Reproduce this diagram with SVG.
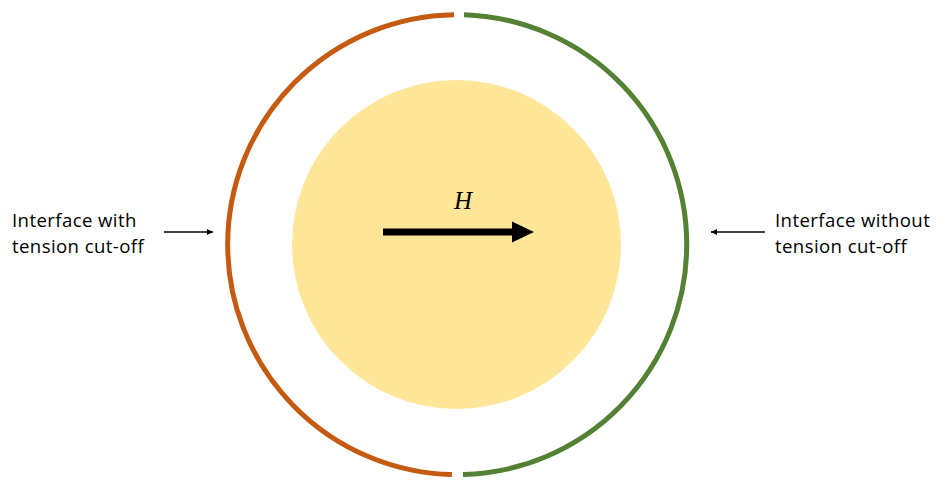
<svg xmlns="http://www.w3.org/2000/svg" width="936" height="480" viewBox="0 0 936 480">
  <style>
    .lbl { font-family: "Open Sans", "Noto Sans", "Liberation Sans", sans-serif; font-size: 18.6px; letter-spacing: 0.4px; fill: #000; }
    .arc { fill: none; stroke-width: 5; stroke-linecap: butt; }
    .thin { stroke: #000; stroke-width: 1.5; fill: none; }
  </style>
  <defs>
    <marker id="ah" viewBox="0 0 10 10" refX="10" refY="5" markerWidth="6" markerHeight="6" markerUnits="userSpaceOnUse" orient="auto">
      <path d="M0,0 L10,5 L0,10 z" fill="#000"/>
    </marker>
  </defs>
  <rect width="936" height="480" fill="#fff"/>
  <g id="core">
    <circle cx="456.5" cy="244.5" r="164.5" fill="#FFE699"/>
  </g>
  <g id="arc-left">
    <path class="arc" stroke="#C55A11" d="M454,14.7 A230,230 0 0 0 452,474.6"/>
  </g>
  <g id="arc-right">
    <path class="arc" stroke="#548235" d="M464,14.8 A230,230 0 0 1 463,474.6"/>
  </g>
  <g id="force-H">
    <line x1="383" y1="232" x2="514" y2="232" stroke="#000" stroke-width="7"/>
    <path d="M512,221.5 L534,232 L512,242.5 z" fill="#000"/>
    <text x="463" y="209" text-anchor="middle" font-family="'Liberation Serif', 'DejaVu Serif', serif" font-style="italic" font-size="25">H</text>
  </g>
  <g id="label-left">
    <text class="lbl" x="12" y="227">Interface with</text>
    <text class="lbl" x="12" y="252.5">tension cut-off</text>
  </g>
  <g id="label-right">
    <text class="lbl" x="775" y="227">Interface without</text>
    <text class="lbl" x="775" y="252.5">tension cut-off</text>
  </g>
  <g id="connectors">
    <line class="thin" x1="164" y1="232" x2="213" y2="232" marker-end="url(#ah)"/>
    <line class="thin" x1="765" y1="232" x2="711" y2="232" marker-end="url(#ah)"/>
  </g>
</svg>
